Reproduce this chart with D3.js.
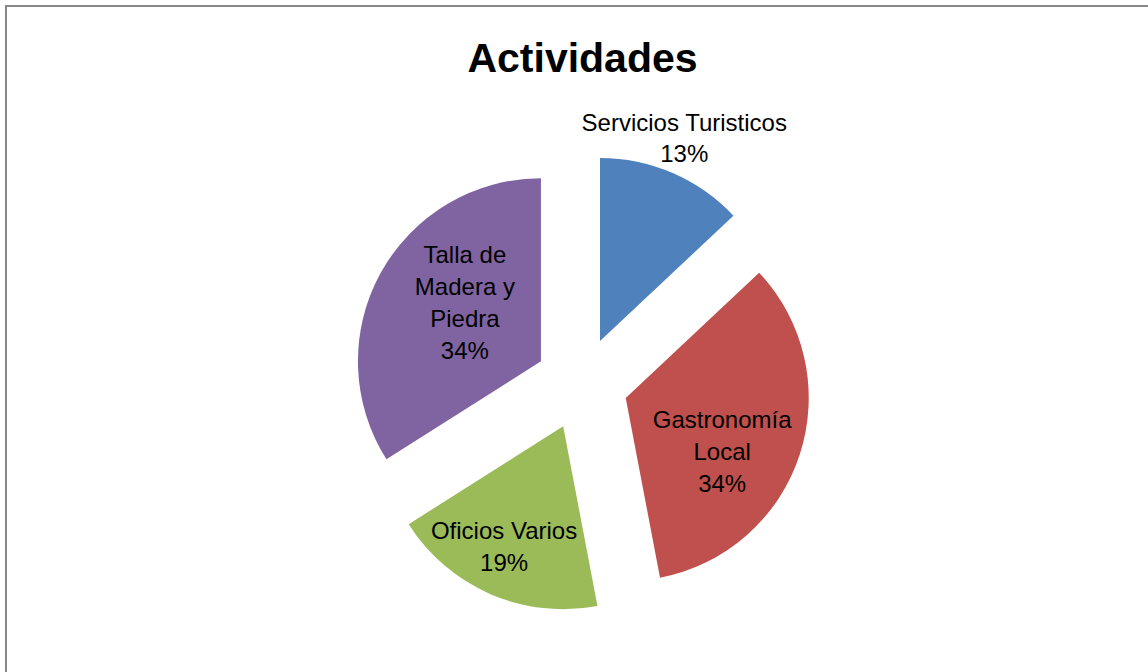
<!DOCTYPE html>
<html>
<head>
<meta charset="utf-8">
<script src="https://cdn.jsdelivr.net/npm/d3@7"></script>
<style>
  html, body { margin: 0; padding: 0; background: #fff; }
  svg { display: block; }
</style>
</head>
<body>
<svg id="chart" width="1148" height="672"></svg>
<script>
// ---- data ----
const categories = ["Servicios Turisticos", "Gastronomía Local", "Oficios Varios", "Talla de Madera y Piedra"];
const values = [13, 34, 19, 34];
const labelLines = [
  ["Servicios Turisticos"],
  ["Gastronomía", "Local"],
  ["Oficios Varios"],
  ["Talla de", "Madera y", "Piedra"]
];
const colors = ["#4F81BD", "#C0504D", "#9BBB59", "#8064A2"];
const title = "Actividades";

// ---- layout (style) ----
const W = 1148, H = 672;
const cx = 581.6, cy = 383.6, R = 183, explode = 46.4;
const labelShiftDeg = [0, 14.6, 1.2, 4.5];
const labelDist = [212, 114.5, 142, 91];
const lineH = [30.5, 32, 32, 32];
const font = "'Liberation Sans', Arial, sans-serif";

const svg = d3.select("#chart");

svg.append("rect")
  .attr("x", 6).attr("y", 6)
  .attr("width", W + 20).attr("height", H + 20)
  .attr("fill", "#fff")
  .attr("stroke", "#888").attr("stroke-width", 2);

svg.append("text")
  .attr("x", 582.5).attr("y", 72)
  .attr("text-anchor", "middle")
  .attr("font-family", font)
  .attr("font-weight", "bold")
  .attr("font-size", 41)
  .attr("fill", "#000")
  .text(title);

const total = d3.sum(values);
const pie = d3.pie().sort(null).startAngle(0).endAngle(2 * Math.PI);
const arcs = pie(values);
const arc = d3.arc().innerRadius(0).outerRadius(R);

const g = svg.append("g").attr("transform", `translate(${cx},${cy})`);

function polar(angle, dist) {
  return [Math.sin(angle) * dist, -Math.cos(angle) * dist];
}

arcs.forEach((a, i) => {
  const mid = (a.startAngle + a.endAngle) / 2;
  const [ox, oy] = polar(mid, explode);
  const sg = g.append("g").attr("transform", `translate(${ox},${oy})`);
  sg.append("path")
    .attr("d", arc(a))
    .attr("fill", colors[i]);

  const la = mid + labelShiftDeg[i] * Math.PI / 180;
  const [lx, ly] = polar(la, labelDist[i]);
  const pct = Math.round(values[i] / total * 100) + "%";
  const lines = labelLines[i].concat([pct]);
  const n = lines.length;
  const t = sg.append("text")
    .attr("text-anchor", "middle")
    .attr("font-family", font)
    .attr("font-size", 24)
    .attr("fill", "#000");
  lines.forEach((ln, k) => {
    t.append("tspan")
      .attr("x", lx)
      .attr("y", ly + (k - (n - 1) / 2) * lineH[i])
      .text(ln);
  });
});
</script>
</body>
</html>
